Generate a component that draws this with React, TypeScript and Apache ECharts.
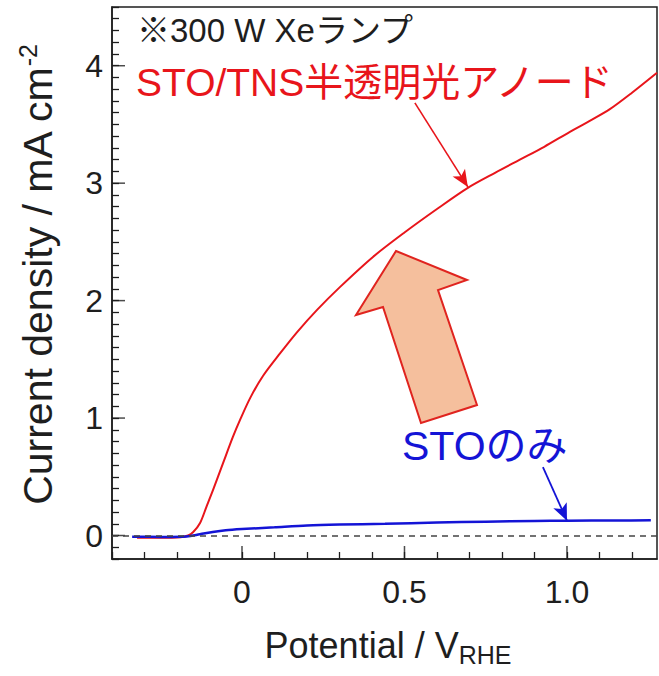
import React, { useEffect, useRef } from "react";
import * as echarts from "echarts";

// ---- data ----
const X_MIN = -0.4;
const X_MAX = 1.277;
const Y_MIN = -0.2;
const Y_MAX = 4.5;

const xMajorTicks = [0, 0.5, 1.0];
const xTickLabels = ["0", "0.5", "1.0"];
const yMajorTicks = [0, 1, 2, 3, 4];
const yTickLabels = ["0", "1", "2", "3", "4"];

// STO/TNS semi-transparent photoanode
const tnsV = [-0.323, -0.25, -0.19, -0.166, -0.15, -0.129, -0.11, -0.089, -0.058, -0.028, -0.006, 0.025, 0.065, 0.117, 0.169, 0.231, 0.302, 0.403, 0.5, 0.6, 0.695, 0.78, 0.855, 0.93, 1.009, 1.07, 1.132, 1.2, 1.277];
const tnsJ = [-0.02, -0.02, -0.015, 0.0, 0.03, 0.107, 0.24, 0.388, 0.618, 0.839, 0.984, 1.17, 1.36, 1.55, 1.73, 1.921, 2.117, 2.372, 2.58, 2.78, 2.96, 3.09, 3.2, 3.31, 3.437, 3.53, 3.63, 3.77, 3.94];

// STO only
const stoV = [-0.338, -0.25, -0.17, -0.13, -0.09, -0.05, 0.0, 0.1, 0.2, 0.3, 0.44, 0.6, 0.75, 0.9, 1.0, 1.15, 1.258];
const stoJ = [-0.01, -0.012, -0.008, 0.01, 0.03, 0.045, 0.055, 0.07, 0.085, 0.093, 0.1, 0.11, 0.118, 0.123, 0.126, 0.128, 0.13];

// annotation arrows (data coordinates)
const tnsArrow = [[0.532, 3.684], [0.695, 2.968]];
const stoArrow = [[0.926, 0.583], [1.0, 0.126]];

const lampLabel = "※300 W Xeランプ";
const tnsLabel = "STO/TNS半透明光アノード";
const stoLabel = "STOのみ";

const FONT = "'Liberation Sans', Arial, 'Noto Sans CJK JP', sans-serif";
const RED = "#e8151b";
const BLUE = "#1414d6";
const INK = "#1e1e1e";

function fmt(list: number[], labels: string[]) {
  return (v: number) => {
    for (let i = 0; i < list.length; i++) {
      if (Math.abs(list[i] - v) < 1e-6) return labels[i];
    }
    return "";
  };
}

export default function App() {
  const ref = useRef<HTMLDivElement>(null);
  useEffect(() => {
    if (!ref.current) return;
    const chart = echarts.init(ref.current, undefined, { renderer: "svg" });
    const tnsData = tnsV.map((v, i) => [v, tnsJ[i]]);
    const stoData = stoV.map((v, i) => [v, stoJ[i]]);
    chart.setOption({
      animation: false,
      backgroundColor: "#ffffff",
      grid: {
        left: 112,
        top: 7,
        right: 2,
        bottom: 117,
        show: true,
        borderColor: INK,
        borderWidth: 1.5,
        backgroundColor: "transparent",
      },
      xAxis: {
        type: "value",
        min: X_MIN,
        max: X_MAX,
        interval: 0.1,
        axisLine: { show: true, onZero: false, lineStyle: { color: INK, width: 1.5 } },
        axisTick: { show: true, inside: true, length: 7, lineStyle: { color: INK, width: 1.3 } },
        splitLine: { show: false },
        axisLabel: {
          formatter: fmt(xMajorTicks, xTickLabels),
          fontSize: 32,
          fontFamily: FONT,
          color: INK,
          margin: 17,
          showMaxLabel: false,
        },
      },
      yAxis: {
        type: "value",
        min: Y_MIN,
        max: Y_MAX,
        interval: 0.1,
        axisLine: { show: true, onZero: false, lineStyle: { color: INK, width: 1.5 } },
        axisTick: { show: true, inside: true, length: 7, lineStyle: { color: INK, width: 1.3 } },
        splitLine: { show: false },
        axisLabel: {
          formatter: fmt(yMajorTicks, yTickLabels),
          fontSize: 32,
          fontFamily: FONT,
          color: INK,
          margin: 9,
        },
      },
      graphic: [
        {
          type: "text",
          left: 137,
          top: 14,
          style: { text: lampLabel, fontSize: 33, fontFamily: FONT, fill: INK },
        },
        {
          type: "text",
          left: 136,
          top: 63,
          style: { text: tnsLabel, fontSize: 39, fontFamily: FONT, fill: RED },
        },
        {
          type: "text",
          left: 402,
          top: 425,
          style: { text: stoLabel, fontSize: 41, fontFamily: FONT, fill: BLUE },
        },
        {
          type: "polygon",
          z: 10,
          shape: {
            points: [
              [396, 251],
              [467, 280],
              [438, 290],
              [477, 405],
              [421, 423],
              [383, 307],
              [356, 315],
            ],
          },
          style: { fill: "#f5bf9d", stroke: "#e0241f", lineWidth: 2 },
        },
        {
          type: "text",
          x: 38,
          y: 275,
          rotation: Math.PI / 2,
          style: {
            text: "{a|Current density / mA cm}{b|-2}",
            align: "center",
            verticalAlign: "middle",
            fill: INK,
            rich: {
              a: { fontSize: 41, fontFamily: FONT, fill: INK, lineHeight: 44 },
              b: { fontSize: 25, fontFamily: FONT, fill: INK, verticalAlign: "top", padding: [0, 0, 20, 0] },
            },
          },
        },
        {
          type: "text",
          x: 388,
          y: 645,
          style: {
            text: "{a|Potential / V}{b|RHE}",
            align: "center",
            verticalAlign: "middle",
            fill: INK,
            rich: {
              a: { fontSize: 36, fontFamily: FONT, fill: INK, lineHeight: 40 },
              b: { fontSize: 25, fontFamily: FONT, fill: INK, verticalAlign: "bottom", padding: [20, 0, 0, 0] },
            },
          },
        },
      ],
      series: [
        {
          name: "ticks",
          type: "scatter",
          clip: false,
          silent: true,
          z: 1,
          symbol: "rect",
          symbolSize: [1.5, 13],
          symbolOffset: [0, -6.5],
          itemStyle: { color: INK },
          data: xMajorTicks.map((v) => [v, Y_MIN]),
          markLine: {
            silent: true,
            symbol: "none",
            label: { show: false },
            lineStyle: { type: [6, 5], color: "#444", width: 1.5 },
            data: [{ yAxis: 0 }],
          },
        },
        {
          name: "yticks",
          type: "scatter",
          clip: false,
          silent: true,
          z: 1,
          symbol: "rect",
          symbolSize: [13, 1.5],
          symbolOffset: [6.5, 0],
          itemStyle: { color: INK },
          data: yMajorTicks.map((v) => [X_MIN, v]),
        },
        {
          name: "STO/TNS",
          type: "line",
          z: 3,
          showSymbol: false,
          smooth: 0.3,
          data: tnsData,
          lineStyle: { color: RED, width: 2 },
          itemStyle: { color: RED },
          markLine: {
            silent: true,
            symbol: ["none", "arrow"],
            symbolSize: [11, 17],
            label: { show: false },
            lineStyle: { color: RED, width: 1.6, type: "solid" },
            data: [[{ coord: tnsArrow[0] }, { coord: tnsArrow[1] }]],
          },
        },
        {
          name: "STO",
          type: "line",
          z: 4,
          showSymbol: false,
          smooth: 0.3,
          data: stoData,
          lineStyle: { color: BLUE, width: 2.5 },
          itemStyle: { color: BLUE },
          markLine: {
            silent: true,
            symbol: ["none", "arrow"],
            symbolSize: [11, 17],
            label: { show: false },
            lineStyle: { color: BLUE, width: 1.8, type: "solid" },
            data: [[{ coord: stoArrow[0] }, { coord: stoArrow[1] }]],
          },
        },
      ],
    });
    return () => chart.dispose();
  }, []);
  return (
    <div
      ref={ref}
      style={{ position: "fixed", left: 0, top: 0, width: 659, height: 676, background: "#fff" }}
    />
  );
}
